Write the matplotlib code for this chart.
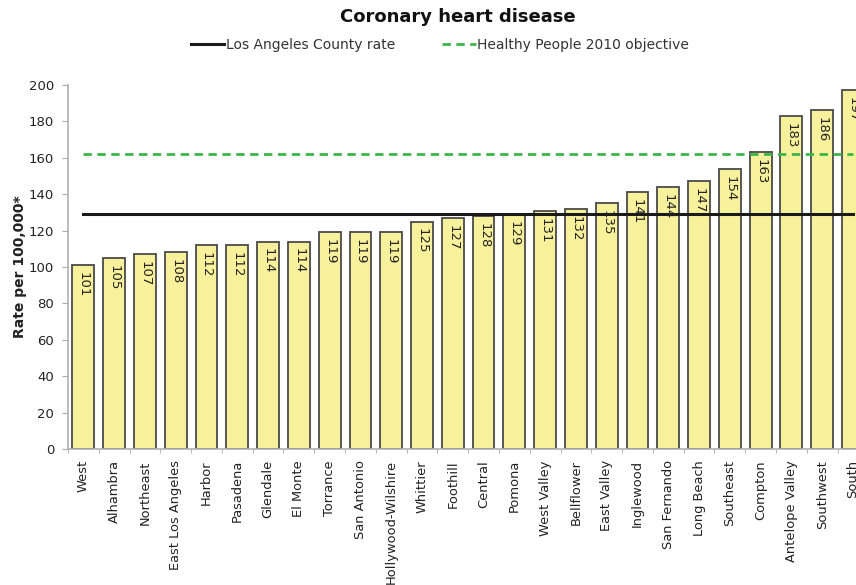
import numpy as np
import matplotlib
matplotlib.use("Agg")
import matplotlib.pyplot as plt

# Dados (taxa por 100.000)
areas = ["West", "Alhambra", "Northeast", "East Los Angeles", "Harbor", "Pasadena",
         "Glendale", "El Monte", "Torrance", "San Antonio", "Hollywood-Wilshire",
         "Whittier", "Foothill", "Central", "Pomona", "West Valley", "Bellflower",
         "East Valley", "Inglewood", "San Fernando", "Long Beach", "Southeast",
         "Compton", "Antelope Valley", "Southwest", "South"]
rates = [101, 105, 107, 108, 112, 112, 114, 114, 119, 119, 119, 125, 127, 128,
         129, 131, 132, 135, 141, 144, 147, 154, 163, 183, 186, 197]
county_rate = 129
hp2010_objective = 162
yticks = [0, 20, 40, 60, 80, 100, 120, 140, 160, 180, 200]

plt.rcParams['font.family'] = ['DejaVu Sans']

fig = plt.figure(figsize=(8.56, 5.85), dpi=100)
# eixo se estende além da borda direita (imagem original recortada)
ax = fig.add_axes([68 / 856, 1 - 449 / 585, 0.935, (449 - 85) / 585])

x = np.arange(len(areas))
ax.bar(x, rates, width=0.71, color='#f8f19c', edgecolor='#4a4a4a', linewidth=1.3, zorder=2)

for xi, v in zip(x, rates):
    ax.annotate(str(v), (xi, v), xytext=(0, -5), textcoords='offset points',
                rotation=270, ha='center', va='top', fontsize=9.5, color='#222222', zorder=4)

ax.plot([x[0], x[-1]], [county_rate, county_rate], color='#1a1a1a', linewidth=2.2,
        label='Los Angeles County rate', zorder=3)
ax.plot([x[0], x[-1]], [hp2010_objective, hp2010_objective], color='#3cb54a', linewidth=2,
        linestyle=(0, (3, 2)), label='Healthy People 2010 objective', zorder=3)

ax.set_xlim(-0.43, len(areas) - 0.5)
ax.set_ylim(0, 200)
ax.set_yticks(yticks)
ax.set_xticks(x)
ax.set_xticklabels(areas, rotation=90, fontsize=9.4, color='#222222')
ax.set_xticks(np.arange(len(areas) + 1) - 0.5, minor=True)
ax.tick_params(axis='x', which='major', length=0, pad=8)
ax.tick_params(axis='x', which='minor', length=3, color='#aaaaaa')
ax.tick_params(axis='y', length=4, color='#aaaaaa', labelsize=9.5, labelcolor='#222222', pad=6)

for s in ['top', 'right']:
    ax.spines[s].set_visible(False)
for s in ['left', 'bottom']:
    ax.spines[s].set_color('#b0b0b0')
    ax.spines[s].set_linewidth(1.2)

fig.text(20 / 856, 1 - 267 / 585, 'Rate per 100,000*', rotation=90, ha='center', va='center',
         fontsize=10, fontweight='bold', color='#222222')
fig.text(458 / 856, 1 - 17 / 585, 'Coronary heart disease', ha='center', va='center',
         fontsize=13, fontweight='bold', color='#111111')

fig.legend(loc='center', bbox_to_anchor=(440 / 856, 1 - 45 / 585), ncol=2, frameon=False,
           fontsize=10, handlelength=2.4, handletextpad=0.1, columnspacing=3.4,
           labelcolor='#333333')

fig.savefig('out.png', dpi=100)
plt.close(fig)
